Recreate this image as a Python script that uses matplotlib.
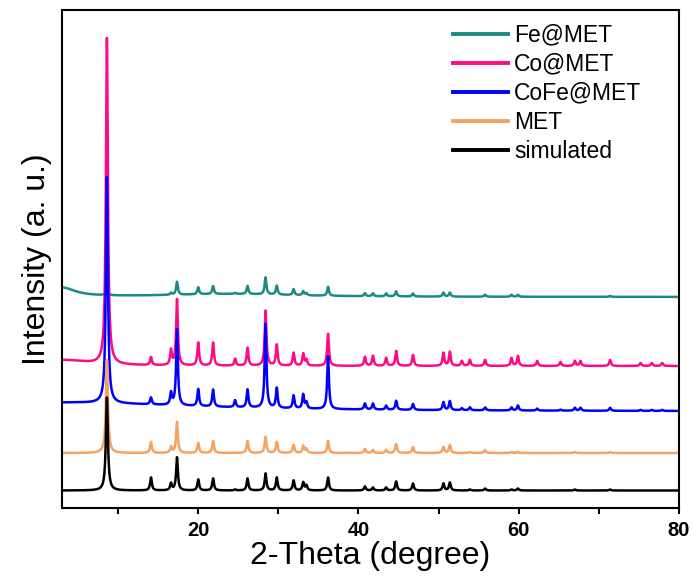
import numpy as np
import matplotlib

matplotlib.use("Agg")
import matplotlib.pyplot as plt
from matplotlib.ticker import FixedLocator

plt.rcParams["font.family"] = ["Liberation Sans", "DejaVu Sans"]

# 2-theta positions of the reflections
PEAK_POS = [8.6, 14.1, 16.6, 17.35, 20.0, 21.85, 24.6, 26.15, 28.4, 29.8,
            31.9, 33.1, 33.5, 36.2, 40.8, 41.8, 43.45, 44.7, 46.8, 50.6,
            51.4, 52.9, 53.9, 55.8, 59.1, 59.9, 62.3, 65.2, 67.0, 67.7,
            71.4, 75.2, 76.6, 77.9]

# peak heights above each trace's baseline (arbitrary units)
SIMULATED = [93, 13, 7, 33, 11, 12, 1, 12, 17, 13,
             10, 8, 5, 13, 4, 3, 3, 9, 7, 7,
             8, 0, 1, 2, 1, 2, 0, 0, 1, 0,
             1, 0, 0, 0]
MET = [93, 11, 6, 31, 10, 12, 0, 12, 16, 11,
       8, 7, 4, 12, 4, 3, 3, 9, 6, 6,
       8, 0, 1, 3, 1, 1, 0, 0, 1, 0,
       1, 0, 0, 0]
COFE_MET = [226, 7, 12, 76, 17, 17, 7, 18, 84, 20,
            13, 14, 6, 53, 6, 6, 4, 9, 6, 8,
            9, 2, 3, 3, 3, 5, 2, 1, 3, 3,
            3, 1, 1, 1]
CO_MET = [326, 8, 15, 66, 23, 23, 7, 18, 55, 21,
          13, 12, 6, 32, 9, 10, 8, 15, 11, 13,
          14, 5, 6, 6, 8, 10, 5, 4, 5, 5,
          6, 3, 3, 3]
FE_MET = [6, 0, 2, 13, 7, 8, 1, 8, 17, 9,
          6, 4, 2, 9, 3, 3, 3, 5, 3, 4,
          4, 0, 0, 2, 2, 2, 0, 0, 0, 0,
          1, 0, 0, 0]

# stacking offset of each trace
OFFSETS = [211, 142, 96.5, 55, 17.5]

# broad background features: (2-theta, height, half width)
FE_BG = [(3.0, 9, 2.0), (24.0, 3, 10.0)]
CO_BG = [(3.0, 6, 4.0)]
COFE_BG = [(3.0, 9, 20.0)]

LABELS = ["Fe@MET", "Co@MET", "CoFe@MET", "MET", "simulated"]
COLORS = ["#1b8a86", "#ff0a84", "#0000ff", "#f5a262", "#000000"]

TWO_THETA = np.arange(3.0, 80.001, 0.01)


def _lorentz(pos: float, height: float, hw: float) -> np.ndarray:
    return height * hw ** 2 / ((TWO_THETA - pos) ** 2 + hw ** 2)


def _trace(heights, offset, background=()) -> np.ndarray:
    y = np.full_like(TWO_THETA, offset)
    for pos, h in zip(PEAK_POS, heights):
        y += _lorentz(pos, h, 0.15 if pos < 10 else 0.13)
    for pos, h, hw in background:
        y += _lorentz(pos, h, hw)
    return y


def main() -> None:
    fig = plt.figure(figsize=(6.93, 5.78), dpi=100)
    ax = fig.add_axes([0.0895, 0.1211, 0.8903, 0.8616])

    series = [
        (FE_MET, FE_BG),
        (CO_MET, CO_BG),
        (COFE_MET, COFE_BG),
        (MET, ()),
        (SIMULATED, ()),
    ]
    for (heights, bg), offset, label, color in zip(series, OFFSETS, LABELS, COLORS):
        ax.plot(TWO_THETA, _trace(heights, offset, bg), color=color, lw=1.8, label=label)

    ax.set_xlim(3, 80)
    ax.set_ylim(0, 498)
    ax.set_yticks([])
    ax.set_xticks([20, 40, 60, 80])
    ax.xaxis.set_minor_locator(FixedLocator([10, 30, 50, 70]))
    ax.tick_params(axis="x", which="both", direction="out", length=4, width=1.5)
    ax.tick_params(axis="x", labelsize=14.5, pad=5)
    for lbl in ax.get_xticklabels():
        lbl.set_fontweight("bold")
    for spine in ax.spines.values():
        spine.set_linewidth(1.5)

    ax.set_xlabel("2-Theta (degree)", fontsize=23, labelpad=1)
    ax.set_ylabel("Intensity (a. u.)", fontsize=23, labelpad=7)

    leg = ax.legend(loc="upper left", bbox_to_anchor=(0.6537, 0.959),
                    bbox_transform=fig.transFigure, frameon=False,
                    fontsize=16.5, handlelength=2.4, handletextpad=0.26,
                    labelspacing=0.26, borderpad=0, borderaxespad=0)
    for line in leg.get_lines():
        line.set_linewidth(2.8)

    fig.savefig("out.png", dpi=100)
    plt.close(fig)


if __name__ == "__main__":
    main()
